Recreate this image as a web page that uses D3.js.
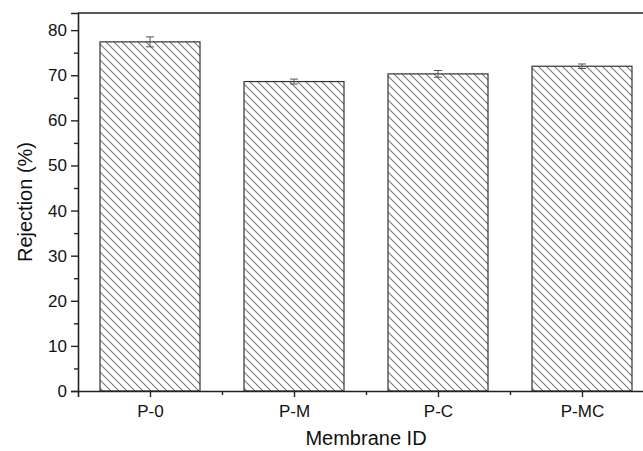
<!DOCTYPE html>
<html>
<head>
<meta charset="utf-8">
<script src="https://cdn.jsdelivr.net/npm/d3@7"></script>
<style>
  body { margin: 0; background: #fff; }
  svg { display: block; font-family: "Liberation Sans", Arial, sans-serif; }
</style>
</head>
<body>
<div id="container"></div>
<script>
var categories = ["P-0", "P-M", "P-C", "P-MC"];
var rejection = [77.4, 68.6, 70.3, 72.0];
var errors = [1.1, 0.55, 0.75, 0.5];
var yTicks = [0, 10, 20, 30, 40, 50, 60, 70, 80];

var width = 643, height = 451;
var margin = {left: 78, top: 13, bottom: 60};
var plotRight = 654; // frame runs past the picture edge

var svg = d3.select("#container").append("svg")
    .attr("width", width)
    .attr("height", height);

var defs = svg.append("defs");
var pat = defs.append("pattern")
    .attr("id", "hatch")
    .attr("patternUnits", "userSpaceOnUse")
    .attr("width", 8)
    .attr("height", 8);
pat.append("path")
    .attr("d", "M-2,-2 L10,10 M-2,6 L2,10 M6,-2 L10,2")
    .attr("stroke", "#777")
    .attr("stroke-width", 1.1);

var x = d3.scaleLinear()
    .domain([0.5, categories.length + 0.5])
    .range([margin.left, plotRight]);

var y = d3.scaleLinear()
    .domain([0, 83.8])
    .range([height - margin.bottom, margin.top]);

var barW = 100;

// bars
svg.append("g").selectAll("rect")
    .data(categories)
    .enter().append("rect")
    .attr("x", function(d, i) { return x(i + 1) - barW / 2; })
    .attr("y", function(d, i) { return y(rejection[i]); })
    .attr("width", barW)
    .attr("height", function(d, i) { return y(0) - y(rejection[i]); })
    .attr("fill", "url(#hatch)")
    .attr("stroke", "#333")
    .attr("stroke-width", 1.2);

// error bars
var eb = svg.append("g").attr("stroke", "#555").attr("stroke-width", 1);
categories.forEach(function(d, i) {
    var cx = x(i + 1);
    var hi = y(rejection[i] + errors[i]), lo = y(rejection[i] - errors[i]);
    eb.append("line").attr("x1", cx).attr("x2", cx).attr("y1", hi).attr("y2", lo);
    eb.append("line").attr("x1", cx - 4).attr("x2", cx + 4).attr("y1", hi).attr("y2", hi);
    eb.append("line").attr("x1", cx - 4).attr("x2", cx + 4).attr("y1", lo).attr("y2", lo);
});

// frame top
svg.append("line")
    .attr("x1", margin.left).attr("x2", plotRight)
    .attr("y1", margin.top).attr("y2", margin.top)
    .attr("stroke", "#222").attr("stroke-width", 1.6);

// y axis
svg.append("g")
    .attr("transform", "translate(" + margin.left + ",0)")
    .call(d3.axisLeft(y).tickValues(yTicks).tickSize(7).tickPadding(4));
svg.append("g")
    .attr("transform", "translate(" + margin.left + ",0)")
    .call(d3.axisLeft(y).tickValues(d3.range(5, 84, 10)).tickSize(4).tickFormat(""))
    .call(function(g) { g.select(".domain").remove(); });

// x axis
svg.append("g")
    .attr("transform", "translate(0," + y(0) + ")")
    .call(d3.axisBottom(x).tickValues([1, 2, 3, 4]).tickSize(6).tickPadding(8)
        .tickFormat(function(d) { return categories[d - 1]; }));
svg.append("g")
    .attr("transform", "translate(0," + y(0) + ")")
    .call(d3.axisBottom(x).tickValues([1.5, 2.5, 3.5]).tickSize(4).tickFormat(""))
    .call(function(g) { g.select(".domain").remove(); });

svg.selectAll(".domain").attr("stroke", "#222").attr("stroke-width", 1.6);
svg.selectAll(".tick line").attr("stroke", "#222").attr("stroke-width", 1.4);
svg.selectAll(".tick text")
    .attr("fill", "#111")
    .style("font-size", "17px")
    .style("font-family", "'Liberation Sans', Arial, sans-serif");

// axis titles
svg.append("text")
    .attr("x", (margin.left + plotRight) / 2)
    .attr("y", 445)
    .attr("text-anchor", "middle")
    .attr("fill", "#111")
    .style("font-size", "20px")
    .text("Membrane ID");

svg.append("text")
    .attr("transform", "translate(25," + ((margin.top + y(0)) / 2) + ") rotate(-90)")
    .attr("text-anchor", "middle")
    .attr("dy", "0.35em")
    .attr("fill", "#111")
    .style("font-size", "20px")
    .text("Rejection (%)");
</script>
</body>
</html>
